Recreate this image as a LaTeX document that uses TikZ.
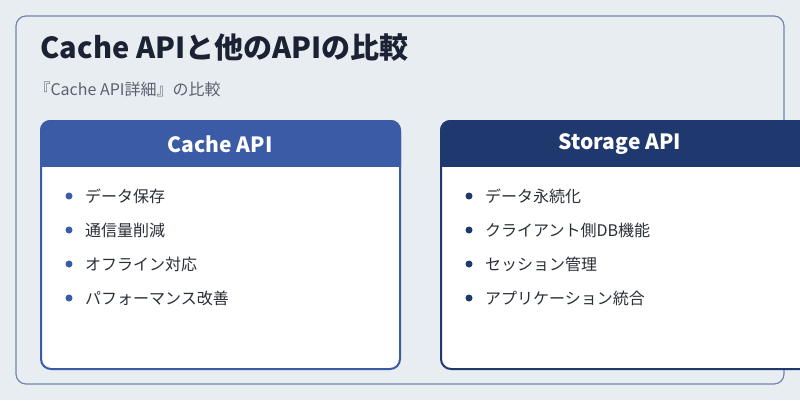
\documentclass[tikz,border=0pt]{standalone}
\usepackage{fontspec}
\setmainfont{Noto Sans CJK JP}
\usetikzlibrary{positioning}
\definecolor{pagebg}{HTML}{E8EDF2}
\definecolor{frameline}{HTML}{6F87B0}
\definecolor{cacheblue}{HTML}{3A5BA5}
\definecolor{storenavy}{HTML}{1F386E}
\definecolor{titleink}{HTML}{1A2233}
\definecolor{subink}{HTML}{5A6270}
\definecolor{itemink}{HTML}{2A2F38}
\tikzset{
  card/.style={draw=#1, line width=2pt, fill=white, rounded corners=10pt},
  cardhead/.style={fill=#1, rounded corners=10pt},
  headtext/.style={text=white, font=\fontsize{21}{24}\selectfont\bfseries},
  item/.style={text=itemink, anchor=west, font=\fontsize{16}{19}\selectfont},
  dot/.style={circle, fill=#1, inner sep=0pt, minimum size=7pt}
}
\begin{document}
\begin{tikzpicture}[x=1pt,y=-1pt]
	\clip (0,0) rectangle (800,400);
	\fill[pagebg] (0,0) rectangle (800,400);
	\draw[frameline, line width=1.2pt, rounded corners=10pt] (16,16) rectangle (784,384);
	\node (title) [anchor=west, text=titleink, font=\fontsize{29}{33}\selectfont\bfseries] at (37,48) {Cache APIと他のAPIの比較};
	\node (sub) [anchor=west, text=subink, font=\fontsize{16}{19}\selectfont] at (31,89) {『Cache API詳細』の比較};
	% Cache API card
	\draw[card=cacheblue] (41,121) rectangle (400,369);
	\begin{scope}
		\clip (40,120) rectangle (401,166);
		\fill[cardhead=cacheblue] (40,120) rectangle (401,190);
	\end{scope}
	\node (cachehead) [headtext] at (220,144) {Cache API};
	\foreach \t [count=\i] in {データ保存, 通信量削減, オフライン対応, パフォーマンス改善} {
		\node (cdot\i) [dot=cacheblue] at (69,196+34*\i-34) {};
		\node (citem\i) [item, right=9pt of cdot\i] {\t};
	}
	% Storage API card
	\draw[card=storenavy] (441,121) rectangle (840,369);
	\begin{scope}
		\clip (440,120) rectangle (841,166);
		\fill[cardhead=storenavy] (440,120) rectangle (841,190);
	\end{scope}
	\node (storehead) [headtext] at (620,144) {Storage API};
	\foreach \t [count=\i] in {データ永続化, クライアント側DB機能, セッション管理, アプリケーション統合} {
		\node (sdot\i) [dot=storenavy] at (469,196+34*\i-34) {};
		\node (sitem\i) [item, right=9pt of sdot\i] {\t};
	}
\end{tikzpicture}
\end{document}
